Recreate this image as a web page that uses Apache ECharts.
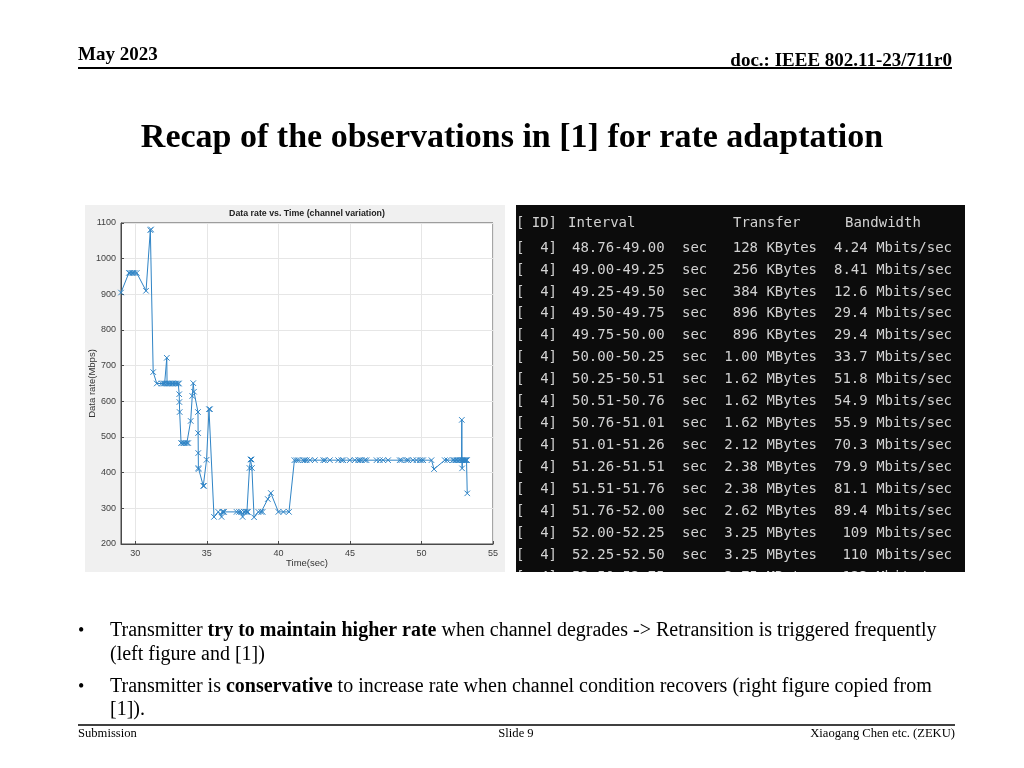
<!DOCTYPE html>
<html>
<head>
<meta charset="utf-8">
<script src="https://cdn.jsdelivr.net/npm/echarts@6/dist/echarts.min.js"></script>
<style>
html,body{margin:0;padding:0;background:#fff;}
#main{width:1024px;height:768px;}
</style>
</head>
<body>
<div id="main"></div>
<script>
// ---- Left figure data ----
const timeSec = [
  29.0, 29.55, 29.65, 29.75, 29.85, 29.95, 30.1, 30.75, 31.05, 31.1,
  31.25, 31.5, 31.85, 31.95, 32.05, 32.15, 32.2, 32.22, 32.3, 32.4,
  32.5, 32.6, 32.7, 32.8, 32.9, 33.0, 33.05, 33.07, 33.08, 33.1,
  33.2, 33.3, 33.4, 33.5, 33.6, 33.7, 33.87, 33.98, 34.05, 34.1,
  34.38, 34.39, 34.4, 34.41, 34.42, 34.75, 34.8, 34.98, 35.15, 35.22,
  35.5, 35.8, 36.03, 36.08, 36.15, 36.2, 37.08, 37.25, 37.4, 37.5,
  37.6, 37.7, 37.8, 37.87, 37.98, 38.05, 38.12, 38.15, 38.3, 38.6,
  38.8, 38.9, 39.26, 39.47, 40.0, 40.35, 40.74, 41.12, 41.27, 41.4,
  41.74, 41.85, 41.98, 42.21, 42.55, 43.14, 43.25, 43.6, 44.18, 44.41,
  44.53, 44.99, 45.34, 45.58, 45.69, 45.81, 46.04, 46.16, 46.86, 47.09,
  47.32, 47.67, 48.48, 48.6, 48.95, 49.07, 49.41, 49.65, 49.88, 50.0,
  50.12, 50.7, 50.88, 51.63, 51.8, 52.2, 52.3, 52.4, 52.5, 52.6,
  52.7, 52.8, 52.82, 52.84, 52.86, 52.9, 52.95, 53.0, 53.05, 53.1,
  53.15, 53.18, 53.2
];
const rateMbps = [
  905, 960, 960, 960, 960, 960, 960, 910, 1080, 1082,
  682, 650, 650, 650, 650, 650, 722, 650, 650, 650,
  650, 650, 650, 650, 650, 650, 650, 620, 598, 570,
  483, 483, 483, 483, 483, 483, 545, 615, 651, 627,
  570, 511, 455, 413, 410, 363, 363, 436, 578, 578,
  276, 290, 276, 290, 290, 290, 290, 290, 290, 276,
  290, 290, 290, 290, 413, 437, 437, 413, 275, 290,
  290, 290, 326, 343, 290, 290, 290, 435, 435, 435,
  435, 435, 435, 435, 435, 435, 435, 435, 435, 435,
  435, 435, 435, 435, 435, 435, 435, 435, 435, 435,
  435, 435, 435, 435, 435, 435, 435, 435, 435, 435,
  435, 435, 410, 435, 435, 435, 435, 435, 435, 435,
  435, 435, 548, 412, 435, 435, 435, 435, 435, 435,
  435, 435, 342
];
const xTicks = [30, 35, 40, 45, 50, 55];
const chartTitle = 'Data rate vs. Time (channel variation)';
const xName = 'Time(sec)';
const yName = 'Data rate(Mbps)';

// ---- Right figure (iperf output) ----
const termHeader = ['[', 'ID]', 'Interval', 'Transfer', 'Bandwidth'];
const termIds = ['4]','4]','4]','4]','4]','4]','4]','4]','4]','4]','4]','4]','4]','4]','4]','4]'];
const termIntervals = ['48.76-49.00','49.00-49.25','49.25-49.50','49.50-49.75','49.75-50.00','50.00-50.25','50.25-50.51','50.51-50.76','50.76-51.01','51.01-51.26','51.26-51.51','51.51-51.76','51.76-52.00','52.00-52.25','52.25-52.50','52.50-52.75'];
const termTransfers = ['128 KBytes','256 KBytes','384 KBytes','896 KBytes','896 KBytes','1.00 MBytes','1.62 MBytes','1.62 MBytes','1.62 MBytes','2.12 MBytes','2.38 MBytes','2.38 MBytes','2.62 MBytes','3.25 MBytes','3.25 MBytes','3.75 MBytes'];
const termBandwidths = ['4.24 Mbits/sec','8.41 Mbits/sec','12.6 Mbits/sec','29.4 Mbits/sec','29.4 Mbits/sec','33.7 Mbits/sec','51.8 Mbits/sec','54.9 Mbits/sec','55.9 Mbits/sec','70.3 Mbits/sec','79.9 Mbits/sec','81.1 Mbits/sec','89.4 Mbits/sec','109 Mbits/sec','110 Mbits/sec','123 Mbits/sec'];

// ---- Slide texts ----
const headerLeft = 'May 2023';
const headerRight = 'doc.: IEEE 802.11-23/711r0';
const slideTitle = 'Recap of the observations in [1] for rate adaptation';
const footerLeft = 'Submission';
const footerMid = 'Slide 9';
const footerRight = 'Xiaogang Chen etc. (ZEKU)';

const chart = echarts.init(document.getElementById('main'), null, {renderer: 'canvas'});

const serif = '"Liberation Serif", "Times New Roman", serif';
const sans = '"Liberation Sans", Arial, sans-serif';
const mono = '"DejaVu Sans Mono", monospace';
const lineBlue = '#2f84c6';

const graphics = [];
// chart image background
graphics.push({type:'rect', z:-10, shape:{x:85, y:205, width:420, height:367}, style:{fill:'#f0f0f0'}});
graphics.push({type:'text', x:307, y:214, style:{text:chartTitle, font:'bold 8.8px ' + sans, fill:'#222', align:'center', verticalAlign:'middle'}});

// terminal
graphics.push({type:'rect', shape:{x:516, y:205, width:449, height:367}, style:{fill:'#0c0c0c'}});
const termFont = '14px ' + mono;
const termColor = '#d2d2d2';
function tText(txt, x, y, align) {
  graphics.push({type:'text', x:x, y:y, z:5, style:{text:txt, font:termFont, fill:termColor, align:align, verticalAlign:'middle'}});
}
const hy = 223;
tText(termHeader[0], 516, hy, 'left');
tText(termHeader[1], 557, hy, 'right');
tText(termHeader[2], 568, hy, 'left');
tText(termHeader[3], 733, hy, 'left');
tText(termHeader[4], 845, hy, 'left');
for (let i = 0; i < termIntervals.length; i++) {
  const y = 248 + i * 21.93;
  tText('[', 516, y, 'left');
  tText(termIds[i], 557, y, 'right');
  tText(termIntervals[i], 572, y, 'left');
  tText('sec', 682, y, 'left');
  tText(termTransfers[i], 817, y, 'right');
  tText(termBandwidths[i], 952, y, 'right');
}
// clip the cut-off last row
graphics.push({type:'rect', z:20, shape:{x:510, y:572, width:470, height:30}, style:{fill:'#ffffff'}});

// slide header
graphics.push({type:'text', x:78, y:55, style:{text:headerLeft, font:'bold 19px ' + serif, fill:'#000', align:'left', verticalAlign:'middle'}});
graphics.push({type:'text', x:952, y:61, style:{text:headerRight, font:'bold 19px ' + serif, fill:'#000', align:'right', verticalAlign:'middle'}});
graphics.push({type:'line', shape:{x1:78, y1:68, x2:952, y2:68}, style:{stroke:'#000', lineWidth:2}});
graphics.push({type:'text', x:512, y:138, style:{text:slideTitle, font:'bold 34px ' + serif, fill:'#000', align:'center', verticalAlign:'middle'}});

// bullets
const bulletRich = {
  n: {fontFamily: serif, fontSize: 20, fontWeight: 'normal', fill: '#000'},
  b: {fontFamily: serif, fontSize: 20, fontWeight: 'bold', fill: '#000'}
};
function bullet(y) {
  graphics.push({type:'text', x:78, y:y, style:{text:'•', font:'18px ' + serif, fill:'#000', align:'left', verticalAlign:'middle'}});
}
function richLine(txt, y) {
  graphics.push({type:'text', x:110, y:y, style:{text:txt, rich:bulletRich, font:'20px ' + serif, fill:'#000', align:'left', verticalAlign:'middle'}});
}
bullet(631);
richLine('{n|Transmitter }{b|try to maintain higher rate}{n| when channel degrades -> Retransition is triggered frequently}', 631);
richLine('{n|(left figure and [1])}', 655);
bullet(687);
richLine('{n|Transmitter is }{b|conservative}{n| to increase rate when channel condition recovers (right figure copied from}', 687);
richLine('{n|[1]).}', 710);

// footer
graphics.push({type:'line', shape:{x1:78, y1:725, x2:955, y2:725}, style:{stroke:'#000', lineWidth:1.5}});
graphics.push({type:'text', x:78, y:734, style:{text:footerLeft, font:'12.6px ' + serif, fill:'#000', align:'left', verticalAlign:'middle'}});
graphics.push({type:'text', x:516, y:734, style:{text:footerMid, font:'12.6px ' + serif, fill:'#000', align:'center', verticalAlign:'middle'}});
graphics.push({type:'text', x:955, y:734, style:{text:footerRight, font:'12.6px ' + serif, fill:'#000', align:'right', verticalAlign:'middle'}});

const option = {
  animation: false,
  backgroundColor: '#ffffff',
  graphic: {elements: graphics},
  grid: {
    left: 121, right: 531, top: 223, bottom: 224,
    show: true, backgroundColor: '#ffffff', borderColor: '#4a4a4a', borderWidth: 1,
    containLabel: false
  },
  xAxis: {
    type: 'value', min: 29, max: 55,
    name: xName, nameLocation: 'middle', nameGap: 14, nameMoveOverlap: false,
    nameTextStyle: {fontFamily: sans, fontSize: 9.5, color: '#333'},
    axisLine: {show: true, onZero: false, lineStyle: {color: '#4a4a4a', width: 1}},
    axisTick: {show: true, inside: true, length: 3, customValues: xTicks, lineStyle: {color: '#4a4a4a'}},
    axisLabel: {customValues: xTicks, fontFamily: sans, fontSize: 9, color: '#404040', margin: 5},
    splitLine: {show: true, lineStyle: {color: '#e6e6e6', width: 1}}
  },
  yAxis: {
    type: 'value', min: 200, max: 1100, interval: 100,
    name: yName, nameLocation: 'middle', nameGap: 24, nameRotate: 90, nameMoveOverlap: false,
    nameTextStyle: {fontFamily: sans, fontSize: 9.5, color: '#333'},
    axisLine: {show: true, lineStyle: {color: '#4a4a4a', width: 1}},
    axisTick: {show: true, inside: true, length: 3, lineStyle: {color: '#4a4a4a'}},
    axisLabel: {fontFamily: sans, fontSize: 9, color: '#404040', margin: 5, formatter: function (v) { return String(v); }},
    splitLine: {show: true, lineStyle: {color: '#e6e6e6', width: 1}}
  },
  series: [{
    type: 'line',
    data: timeSec.map((t, i) => [t, rateMbps[i]]),
    showSymbol: true, showAllSymbol: true,
    symbol: 'path://M0,0L10,10M10,0L0,10',
    symbolSize: 5.5,
    lineStyle: {color: lineBlue, width: 1},
    itemStyle: {color: 'rgba(0,0,0,0)', borderColor: lineBlue, borderWidth: 1},
    emphasis: {disabled: true},
    silent: true
  }]
};
chart.setOption(option);
</script>
</body>
</html>
